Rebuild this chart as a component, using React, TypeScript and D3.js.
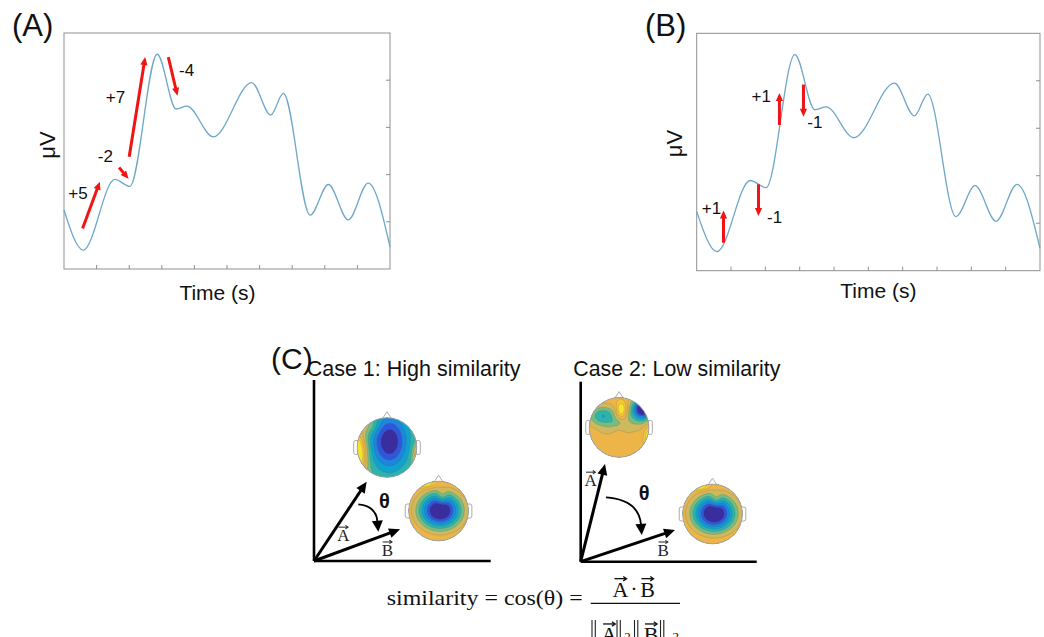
import React, { useMemo } from 'react';
import * as d3 from 'd3';

// ---------- Data ----------
const waveTime = [0, 0.59, 1.56, 2.02, 2.86, 3.44, 3.77, 4.58, 5.76, 6.34, 6.73, 7.55, 8.11, 8.72, 9.33, 10];
const waveAmp = [1.25, 0.40, 1.90, 1.75, 4.55, 3.39, 3.45, 2.80, 3.95, 3.26, 3.72, 1.14, 1.79, 1.04, 1.82, 0.47];
const xTicks = [1, 2, 3, 4, 5, 6, 7, 8, 9];
const yTicks = [1, 2, 3, 4];

const arrowLabelsA = ['+5', '-2', '+7', '-4'];
const arrowFromA = [[0.57, 0.86], [1.69, 2.15], [2.0, 2.38], [3.2, 4.49]];
const arrowToA = [[1.1, 1.85], [1.98, 1.91], [2.49, 4.49], [3.48, 3.67]];
const labelAtA = [[0.43, 1.61], [1.27, 2.39], [1.58, 3.64], [3.76, 4.2]];

const arrowLabelsB = ['+1', '-1', '+1', '-1'];
const arrowFromB = [[0.78, 0.59], [1.8, 1.82], [2.41, 3.07], [3.11, 3.92]];
const arrowToB = [[0.78, 1.27], [1.8, 1.15], [2.41, 3.74], [3.11, 3.24]];
const labelAtB = [[0.43, 1.32], [2.27, 1.11], [1.88, 3.67], [3.44, 3.12]];

// Case diagrams (unit coordinates inside each diagram frame)
const case1Vectors = [[0.298, 0.438], [0.487, 0.175]];
const case1Labels = [[0.166, 0.11], [0.415, 0.028]]; // [x, baseline]
const case1Theta = [0.399, 0.293];
const case1Curve = [[0.251, 0.313], [0.351, 0.304], [0.364, 0.162]];
const case1Heads = [[0.413, 0.627], [0.705, 0.276]];

const case2Vectors = [[0.138, 0.543], [0.536, 0.176]];
const case2Labels = [[0.057, 0.42], [0.469, 0.032]];
const case2Theta = [0.36, 0.343];
const case2Curve = [[0.144, 0.357], [0.331, 0.343], [0.347, 0.149]];
const case2Heads = [[0.218, 0.746], [0.749, 0.265]];

// Topography sources: [u, v, amplitude, sigmaU, sigmaV]
const headHighBase = 0.55;
const headHighSources = [
  [0.08, -0.2, -0.55, 0.45, 0.65],
  [-1.0, 0.2, 0.6, 0.22, 0.5],
  [1.02, 0.3, 0.3, 0.12, 0.28],
  [-0.6, -0.75, 0.15, 0.25, 0.2],
];
const headBBase = 0.85;
const headBSources = [
  [0.05, -0.02, -0.95, 0.5, 0.43],
  [0.12, -0.45, 0.2, 0.12, 0.18],
  [-0.45, -0.95, 0.3, 0.2, 0.1],
];
const headLowBase = 0.76;
const headLowSources = [
  [0.08, -0.58, 0.35, 0.13, 0.2],
  [0.82, -0.66, -0.75, 0.2, 0.22],
  [0.65, -0.5, -0.22, 0.3, 0.3],
  [-0.55, -0.38, -0.3, 0.3, 0.22],
  [-0.1, -0.15, -0.1, 0.18, 0.1],
  [0, -0.35, -0.08, 0.8, 0.3],
  [-0.4, 0.1, -0.06, 0.2, 0.14],
  [0.3, 0.05, -0.05, 0.2, 0.14],
  [0.98, 0.3, 0.22, 0.1, 0.25],
];
const bandColors = ['#3a2e9e', '#2f57db', '#1f84dc', '#10a2cf', '#2db3ae', '#73bc83', '#cfb95c', '#edb447', '#f5c63a', '#f6e42a'];
const levels = [0.1, 0.2, 0.3, 0.4, 0.5, 0.6, 0.7, 0.8, 0.9];

const SANS = '"Liberation Sans", Arial, sans-serif';
const SERIF = '"Liberation Serif", "Times New Roman", serif';
const RED = '#f01414';

function headPoly(x0: number, y0: number, x1: number, y1: number, len: number, half: number) {
  const dx = x1 - x0, dy = y1 - y0;
  const L = Math.hypot(dx, dy) || 1;
  const ux = dx / L, uy = dy / L;
  const bx = x1 - ux * len, by = y1 - uy * len;
  const px = -uy * half, py = ux * half;
  return { base: [bx + ux * 0.5, by + uy * 0.5], pts: `${x1},${y1} ${bx + px},${by + py} ${bx - px},${by - py}` };
}

function Arrow({ p0, p1, color, width, len, half }: any) {
  const h = headPoly(p0[0], p0[1], p1[0], p1[1], len, half);
  return (
    <g>
      <line x1={p0[0]} y1={p0[1]} x2={h.base[0]} y2={h.base[1]} stroke={color} strokeWidth={width} />
      <polygon points={h.pts} fill={color} />
    </g>
  );
}

function WavePanel({ left, top, right, bottom, tag, tagX, labels, from, to, labelAt, xLabelX, xLabelY, muX, muY }: any) {
  const x = d3.scaleLinear().domain([0, 10]).range([left, right]);
  const y = d3.scaleLinear().domain([0, 5]).range([bottom, top]);
  const line = d3.line<number>().x((_, i) => x(waveTime[i])).y((d) => y(d)).curve(d3.curveMonotoneX);
  const axisColor = '#8f8f8f';
  return (
    <g>
      <text x={tagX} y={36} fontFamily={SANS} fontSize={31} fill="#111">{tag}</text>
      <rect x={left} y={top} width={right - left} height={bottom - top} fill="none" stroke={axisColor} strokeWidth={1} />
      {xTicks.map((t) => (
        <line key={'x' + t} x1={x(t)} x2={x(t)} y1={bottom} y2={bottom - 4} stroke={axisColor} strokeWidth={1} />
      ))}
      {yTicks.map((t) => (
        <line key={'y' + t} x1={right} x2={right - 4} y1={y(t)} y2={y(t)} stroke={axisColor} strokeWidth={1} />
      ))}
      <path d={line(waveAmp) || ''} fill="none" stroke="#6ea7c9" strokeWidth={1.3} />
      {labels.map((lab: string, i: number) => (
        <g key={i}>
          <Arrow p0={[x(from[i][0]), y(from[i][1])]} p1={[x(to[i][0]), y(to[i][1])]} color={RED} width={3} len={8} half={3.6} />
          <text x={x(labelAt[i][0])} y={y(labelAt[i][1])} textAnchor="middle" dominantBaseline="central" fontFamily={SANS} fontSize={17} fill="#111">{lab}</text>
        </g>
      ))}
      <text x={xLabelX} y={xLabelY} textAnchor="middle" fontFamily={SANS} fontSize={21} fill="#111">Time (s)</text>
      <text transform={`translate(${muX},${muY}) rotate(-90)`} textAnchor="middle" dominantBaseline="central" fontFamily={SANS} fontSize={22} fill="#111">μV</text>
    </g>
  );
}

function Topo({ cx, cy, r, base, sources, id }: any) {
  const N = 64;
  const ext = 1.08;
  const contours = useMemo(() => {
    const vals: number[] = new Array(N * N);
    for (let j = 0; j < N; j++) {
      for (let i = 0; i < N; i++) {
        const u = -ext + (2 * ext * i) / (N - 1);
        const v = -ext + (2 * ext * j) / (N - 1);
        let s = base;
        for (const [su, sv, a, sx, sy] of sources) {
          s += a * Math.exp(-0.5 * (((u - su) / sx) ** 2 + ((v - sv) / sy) ** 2));
        }
        vals[j * N + i] = s;
      }
    }
    return d3.contours().size([N, N]).thresholds(levels)(vals);
  }, [base, sources]);
  const proj = d3.geoTransform({
    point: function (this: any, px: number, py: number) {
      this.stream.point(cx + r * (-ext + (2 * ext * (px - 0.5)) / (N - 1)), cy + r * (-ext + (2 * ext * (py - 0.5)) / (N - 1)));
    },
  });
  const path = d3.geoPath(proj);
  const outline = '#a3a3a3';
  return (
    <g>
      <defs>
        <clipPath id={id}>
          <circle cx={cx} cy={cy} r={r} />
        </clipPath>
      </defs>
      <rect x={cx - r - 3.5} y={cy - 7} width={6} height={14} rx={2} fill="#fff" stroke={outline} strokeWidth={0.9} />
      <rect x={cx + r - 2.5} y={cy - 7} width={6} height={14} rx={2} fill="#fff" stroke={outline} strokeWidth={0.9} />
      <polygon points={`${cx - 5},${cy - r + 1.5} ${cx},${cy - r - 6} ${cx + 5},${cy - r + 1.5}`} fill="#fff" stroke={outline} strokeWidth={0.9} />
      <g clipPath={`url(#${id})`}>
        <circle cx={cx} cy={cy} r={r} fill={bandColors[0]} />
        {contours.map((c, k) => (
          <path key={k} d={path(c as any) || ''} fill={bandColors[Math.round(c.value * 10)]} stroke="rgba(90,90,90,0.3)" strokeWidth={0.6} />
        ))}
      </g>
      <circle cx={cx} cy={cy} r={r} fill="none" stroke={outline} strokeWidth={1} />
    </g>
  );
}

function VecLetter({ x, y, letter, size, color = '#222' }: any) {
  const w = size * 0.55;
  const ay = y - size * 0.82;
  return (
    <g>
      <text x={x} y={y} textAnchor="middle" fontFamily={SERIF} fontSize={size} fill={color}>{letter}</text>
      <line x1={x - w / 2} x2={x + w / 2 - 0.5} y1={ay} y2={ay} stroke={color} strokeWidth={size * 0.06} />
      <polyline points={`${x + w / 2 - size * 0.15},${ay - size * 0.1} ${x + w / 2},${ay} ${x + w / 2 - size * 0.15},${ay + size * 0.1}`} fill="none" stroke={color} strokeWidth={size * 0.06} />
    </g>
  );
}

function CaseDiagram({ x0, y0, w, h, vectors, labels, theta, curve, heads, headParams, idp }: any) {
  const sx = d3.scaleLinear().domain([0, 1]).range([x0, x0 + w]);
  const sy = d3.scaleLinear().domain([0, 1]).range([y0, y0 - h]);
  const c = curve.map((p: number[]) => [sx(p[0]), sy(p[1])]);
  const ch = headPoly(c[1][0], c[1][1], c[2][0], c[2][1], 11, 5.5);
  const curvePath = d3.path();
  curvePath.moveTo(c[0][0], c[0][1]);
  curvePath.quadraticCurveTo(c[1][0], c[1][1], ch.base[0], ch.base[1]);
  return (
    <g>
      {heads.map((hp: number[], i: number) => (
        <Topo key={i} id={`${idp}${i}`} cx={sx(hp[0])} cy={sy(hp[1])} r={29.8} base={headParams[i].base} sources={headParams[i].sources} />
      ))}
      <line x1={sx(0)} y1={sy(1)} x2={sx(0)} y2={sy(0)} stroke="#000" strokeWidth={2.6} />
      <line x1={sx(0)} y1={sy(0)} x2={sx(1)} y2={sy(0)} stroke="#000" strokeWidth={2.6} />
      {vectors.map((v: number[], i: number) => (
        <Arrow key={i} p0={[sx(0), sy(0)]} p1={[sx(v[0]), sy(v[1])]} color="#000" width={3} len={11} half={5} />
      ))}
      {labels.map((l: number[], i: number) => (
        <VecLetter key={i} x={sx(l[0])} y={sy(l[1])} letter={i === 0 ? 'A' : 'B'} size={17} />
      ))}
      <text x={sx(theta[0])} y={sy(theta[1])} textAnchor="middle" fontFamily={SANS} fontWeight="bold" fontSize={20} fill="#111">θ</text>
      <path d={curvePath.toString()} fill="none" stroke="#000" strokeWidth={1.8} />
      <polygon points={ch.pts} fill="#000" />
    </g>
  );
}

export default function App() {
  const highParams = [
    { base: headHighBase, sources: headHighSources },
    { base: headBBase, sources: headBSources },
  ];
  const lowParams = [
    { base: headLowBase, sources: headLowSources },
    { base: headBBase, sources: headBSources },
  ];
  const bar = (x: number) => (
    <g key={x}>
      <line x1={x} x2={x} y1={620} y2={642} stroke="#222" strokeWidth={1.1} />
      <line x1={x + 3.3} x2={x + 3.3} y1={620} y2={642} stroke="#222" strokeWidth={1.1} />
    </g>
  );
  return (
    <svg width={1044} height={637} style={{ position: 'absolute', left: 0, top: 0, background: '#fff' }}>
      <rect x={0} y={0} width={1044} height={637} fill="#fff" />
      <WavePanel left={64} top={33} right={390} bottom={269} tag="(A)" tagX={12}
        labels={arrowLabelsA} from={arrowFromA} to={arrowToA} labelAt={labelAtA}
        xLabelX={217.5} xLabelY={300} muX={47} muY={145} />
      <WavePanel left={696.7} top={33.3} right={1040} bottom={270.7} tag="(B)" tagX={645}
        labels={arrowLabelsB} from={arrowFromB} to={arrowToB} labelAt={labelAtB}
        xLabelX={878.3} xLabelY={297.5} muX={674} muY={143.5} />

      <text x={271} y={369} fontFamily={SANS} fontSize={30} fill="#111">(C)</text>
      <text x={306.7} y={376} fontFamily={SANS} fontSize={21.5} fill="#111">Case 1: High similarity</text>
      <text x={573.3} y={375.5} fontFamily={SANS} fontSize={21.3} fill="#111">Case 2: Low similarity</text>

      <CaseDiagram x0={314} y0={561} w={176.7} h={181} vectors={case1Vectors} labels={case1Labels}
        theta={case1Theta} curve={case1Curve} heads={case1Heads} headParams={highParams} idp="c1h" />
      <CaseDiagram x0={580.7} y0={561.7} w={176} h={180} vectors={case2Vectors} labels={case2Labels}
        theta={case2Theta} curve={case2Curve} heads={case2Heads} headParams={lowParams} idp="c2h" />

      <text x={386.7} y={605} fontFamily={SERIF} fontSize={22} fill="#111" textLength={196} lengthAdjust="spacingAndGlyphs">similarity = cos(θ) =</text>
      <VecLetter x={620.5} y={596.7} letter="A" size={22} color="#111" />
      <text x={634} y={596} textAnchor="middle" fontFamily={SERIF} fontSize={22} fill="#111">·</text>
      <VecLetter x={647.5} y={596.7} letter="B" size={22} color="#111" />
      <line x1={590.7} x2={680} y1={603.3} y2={603.3} stroke="#111" strokeWidth={1.2} />
      {[592, 617, 634.5, 660.5].map(bar)}
      <VecLetter x={609.2} y={642} letter="A" size={22} color="#111" />
      <VecLetter x={651} y={642} letter="B" size={22} color="#111" />
      <text x={627.5} y={641} textAnchor="middle" fontFamily={SERIF} fontSize={13} fill="#111">2</text>
      <text x={675.8} y={641} textAnchor="middle" fontFamily={SERIF} fontSize={13} fill="#111">2</text>
    </svg>
  );
}
